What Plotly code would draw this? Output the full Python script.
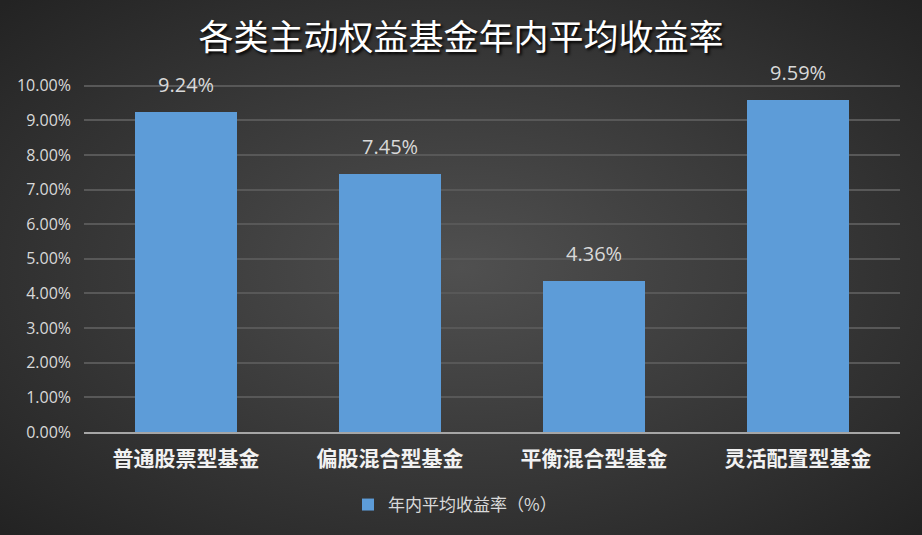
import plotly.graph_objects as go

categories = ["普通股票型基金", "偏股混合型基金", "平衡混合型基金", "灵活配置型基金"]
values = [9.24, 7.45, 4.36, 9.59]
series_name = "年内平均收益率（%）"
title_text = "各类主动权益基金年内平均收益率"

W, H = 922, 535
ML, MR, MT, MB = 84, 22, 84, 103
PW, PH = W - ML - MR, H - MT - MB

bg_svg = (
    "data:image/svg+xml;utf8,"
    "<svg xmlns='http://www.w3.org/2000/svg' width='922' height='535' viewBox='0 0 922 535' preserveAspectRatio='none'>"
    "<defs><radialGradient id='g' cx='50%25' cy='50%25' r='70%25'>"
    "<stop offset='0%25' stop-color='%23505050'/>"
    "<stop offset='100%25' stop-color='%23232323'/>"
    "</radialGradient></defs>"
    "<rect width='922' height='535' fill='url(%23g)'/></svg>"
)

fig = go.Figure()
fig.add_trace(go.Bar(
    x=categories, y=values, name=series_name,
    marker=dict(color="#5d9cd8", line=dict(width=0)),
    showlegend=True,
))

for c, v in zip(categories, values):
    fig.add_annotation(
        x=c, y=v, text=f"{v:.2f}%", showarrow=False,
        yanchor="bottom", yshift=12,
        font=dict(family="Open Sans, Noto Sans, sans-serif", size=20, color="#d9d9d9"),
    )

fig.add_layout_image(dict(
    source=bg_svg, xref="paper", yref="paper",
    x=-ML / PW, y=1 + MT / PH, sizex=W / PW, sizey=H / PH,
    xanchor="left", yanchor="top", sizing="stretch", layer="below",
))

fig.update_layout(
    width=W, height=H,
    margin=dict(l=ML, r=MR, t=MT, b=MB, autoexpand=False),
    paper_bgcolor="#3a3a3a", plot_bgcolor="rgba(0,0,0,0)",
    bargap=0.5,
    title=dict(
        text=title_text, x=0.5, xanchor="center", y=1 - 38 / H, yanchor="middle",
        font=dict(family="Noto Sans CJK SC", size=35, color="#ffffff",
                  shadow="2px 2px 3px #000000"),
    ),
    xaxis=dict(
        showgrid=False, showline=True, linecolor="#a6a6a6", linewidth=2,
        ticks="", tickfont=dict(family="Noto Sans CJK SC", size=21, color="#f2f2f2", weight="bold"),
        ticklabelstandoff=7,
    ),
    yaxis=dict(
        range=[0, 10.05], dtick=1, tickformat=".2f", ticksuffix="%",
        showgrid=True, gridcolor="#585858", gridwidth=1.5,
        zeroline=False, showline=False, ticks="",
        tickfont=dict(family="Open Sans, Noto Sans, sans-serif", size=16, color="#d9d9d9"),
        ticklabelstandoff=12,
    ),
    legend=dict(
        orientation="h", x=(455 - ML) / PW, xanchor="center", y=-73 / PH, yanchor="middle",
        font=dict(family="Noto Sans CJK SC", size=17, color="#d9d9d9"),
        bgcolor="rgba(0,0,0,0)", itemwidth=30,
    ),
)

fig.write_html(
    "out.html",
    config={"displayModeBar": False},
    post_script="document.body.style.margin='0';document.body.style.overflow='hidden';",
)
